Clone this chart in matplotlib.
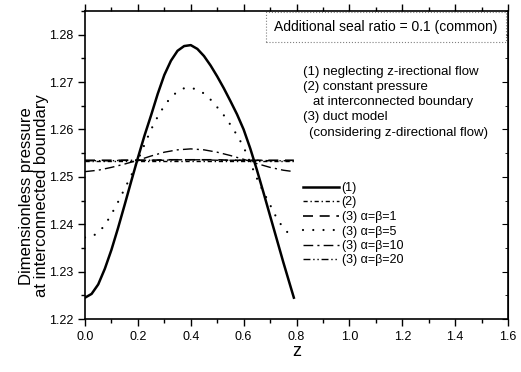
import matplotlib
matplotlib.use("Agg")
import matplotlib.pyplot as plt
from matplotlib.ticker import MultipleLocator

plt.rcParams['font.family'] = ['Liberation Sans', 'DejaVu Sans']

# (1) neglecting z-directional flow
z1 = [0.000, 0.025, 0.050, 0.075, 0.100, 0.125, 0.150, 0.175, 0.200, 0.225,
      0.250, 0.275, 0.300, 0.325, 0.350, 0.375, 0.400, 0.425, 0.450, 0.475,
      0.500, 0.525, 0.550, 0.575, 0.600, 0.625, 0.650, 0.675, 0.700, 0.725,
      0.750, 0.775, 0.790]
p1 = [1.2245, 1.2253, 1.2273, 1.2306, 1.2346, 1.2392, 1.2441, 1.2491, 1.2540, 1.2587,
      1.2630, 1.2675, 1.2715, 1.2745, 1.2766, 1.2776, 1.2778, 1.2770, 1.2755, 1.2735,
      1.2712, 1.2687, 1.2660, 1.2632, 1.2600, 1.2560, 1.2515, 1.2467, 1.2418, 1.2369,
      1.2320, 1.2273, 1.2245]

# (3) alpha=beta=5
p5 = [1.2372, 1.2374, 1.2382, 1.2398, 1.2421, 1.2447, 1.2475, 1.2503, 1.2535, 1.2568,
      1.2600, 1.2627, 1.2650, 1.2668, 1.2680, 1.2687, 1.2688, 1.2684, 1.2676, 1.2663,
      1.2647, 1.2630, 1.2610, 1.2588, 1.2563, 1.2530, 1.2497, 1.2468, 1.2441, 1.2413,
      1.2392, 1.2378, 1.2372]

# coarser series
z2 = [0.00, 0.05, 0.10, 0.15, 0.20, 0.25, 0.30, 0.35, 0.40, 0.45,
      0.50, 0.55, 0.60, 0.65, 0.70, 0.75, 0.79]
p2 = [1.2534] * 17
p_a1 = [1.2535, 1.2535, 1.2535, 1.2535, 1.2535, 1.2535, 1.2536, 1.2536, 1.2536, 1.2536,
        1.2536, 1.2535, 1.2535, 1.2535, 1.2535, 1.2535, 1.2535]
p_a10 = [1.2511, 1.2514, 1.2520, 1.2527, 1.2535, 1.2544, 1.2552, 1.2557, 1.2559, 1.2557,
         1.2552, 1.2545, 1.2537, 1.2528, 1.2520, 1.2514, 1.2511]
p_a20 = [1.2534, 1.2534, 1.2534, 1.2535, 1.2535, 1.2535, 1.2535, 1.2536, 1.2536, 1.2536,
         1.2535, 1.2535, 1.2535, 1.2535, 1.2534, 1.2534, 1.2534]

W, H = 521, 372
fig = plt.figure(figsize=(W / 100, H / 100), dpi=100)
ax = fig.add_axes([85 / W, 1 - 319 / H, (508 - 85) / W, (319 - 11) / H])

k = 'black'
ax.plot(z1, p1, color=k, lw=1.8, label='(1)')
ax.plot(z2, p2, color=k, lw=1.0, ls=(0, (3, 2, 1, 2)), label='(2)')
ax.plot(z2, p_a1, color=k, lw=1.2, ls=(0, (6, 4)), label='(3) α=β=1')
ax.plot(z1, p5, color=k, lw=1.6, ls=(0, (0.01, 4.6)), dash_capstyle='round', label='(3) α=β=5')
ax.plot(z2, p_a10, color=k, lw=1.0, ls=(0, (7, 3, 1.5, 3)), label='(3) α=β=10')
ax.plot(z2, p_a20, color=k, lw=1.0, ls=(0, (5, 2, 1, 2, 1, 2)), label='(3) α=β=20')

ax.set_xlim(0, 1.6)
ax.set_ylim(1.22, 1.285)
ax.xaxis.set_major_locator(MultipleLocator(0.2))
ax.xaxis.set_minor_locator(MultipleLocator(0.1))
ax.yaxis.set_major_locator(MultipleLocator(0.01))
ax.yaxis.set_minor_locator(MultipleLocator(0.005))
ax.set_xticklabels([f'{v:.1f}' for v in ax.get_xticks()])
ax.set_yticklabels([f'{v:.2f}' for v in ax.get_yticks()])
ax.tick_params(which='both', direction='out', top=True, right=False, labelsize=9, width=1)
ax.tick_params(which='major', length=5)
ax.tick_params(which='minor', length=3)
for s in ax.spines.values():
    s.set_linewidth(1.2)

sec = ax.secondary_yaxis('right')
sec.yaxis.set_major_locator(MultipleLocator(0.01))
sec.yaxis.set_minor_locator(MultipleLocator(0.005))
sec.tick_params(which='both', direction='in', labelright=False)
sec.tick_params(which='major', length=4)
sec.tick_params(which='minor', length=2)

fig.text(297 / W, 1 - 352 / H, 'z', fontsize=13, ha='center', va='center')
fig.text(27 / W, 1 - 196 / H, 'Dimensionless pressure', fontsize=12,
         rotation=90, ha='center', va='center')
fig.text(42 / W, 1 - 196 / H, 'at interconnected boundary', fontsize=12,
         rotation=90, ha='center', va='center')

fig.text(386 / W, 1 - 27 / H, 'Additional seal ratio = 0.1 (common)', fontsize=10,
         ha='center', va='center',
         bbox=dict(boxstyle='square,pad=0.6', fc='white', ec='gray', ls=':', lw=0.8))

notes = [(303, 72, '(1) neglecting z-irectional flow'),
         (303, 87, '(2) constant pressure'),
         (313, 102, 'at interconnected boundary'),
         (303, 117, '(3) duct model'),
         (309, 133, '(considering z-directional flow)')]
for x, y, t in notes:
    fig.text(x / W, 1 - y / H, t, fontsize=9.5, ha='left', va='center')

ax.legend(loc='upper left', bbox_to_anchor=(303 / W, 1 - 182 / H),
          bbox_transform=fig.transFigure, frameon=False, fontsize=9,
          handlelength=2.9, handletextpad=0.2, labelspacing=0.2, borderpad=0,
          borderaxespad=0)

fig.savefig('out.png', dpi=100)
